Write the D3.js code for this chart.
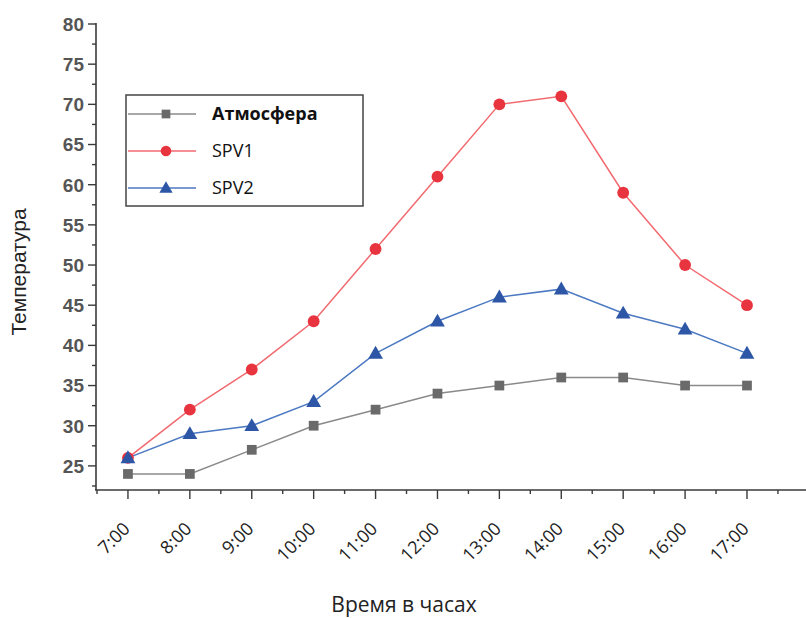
<!DOCTYPE html>
<html><head><meta charset="utf-8">
<script src="https://cdn.jsdelivr.net/npm/d3@7"></script>
<style>body{margin:0;background:#fff}</style>
</head><body>
<svg id="c" width="806" height="618"></svg>
<script>
const categories = ["7:00","8:00","9:00","10:00","11:00","12:00","13:00","14:00","15:00","16:00","17:00"];
const hours = [7,8,9,10,11,12,13,14,15,16,17];
const atmosphere = [24,24,27,30,32,34,35,36,36,35,35];
const spv1 = [26,32,37,43,52,61,70,71,59,50,45];
const spv2 = [26,29,30,33,39,43,46,47,44,42,39];
const yTicks = [25,30,35,40,45,50,55,60,65,70,75,80];
const seriesNames = ["Атмосфера","SPV1","SPV2"];

const svg = d3.select("#c");
const x = d3.scaleLinear().domain([6.5, 17.9]).range([97, 802.7]);
const y = d3.scaleLinear().domain([22, 80]).range([490, 24]);
const axisColor = "#3a3a3a";

// Y axis
const gy = svg.append("g").attr("transform","translate(96,0)");
gy.append("line").attr("y1",y(80)-1).attr("y2",y(22)).attr("stroke",axisColor).attr("stroke-width",1.6);
const minorY = d3.range(22.5, 80, 5);
gy.selectAll(".ym").data(minorY).join("line").attr("x1",-4).attr("x2",0)
  .attr("y1",d=>y(d)).attr("y2",d=>y(d)).attr("stroke",axisColor).attr("stroke-width",1.4);
gy.selectAll(".yM").data(yTicks).join("line").attr("x1",-8).attr("x2",0)
  .attr("y1",d=>y(d)).attr("y2",d=>y(d)).attr("stroke",axisColor).attr("stroke-width",1.4);
gy.selectAll(".yl").data(yTicks).join("text").attr("x",-12).attr("y",d=>y(d)).attr("dy","0.36em")
  .attr("text-anchor","end").attr("font-family","Liberation Sans, Arial, sans-serif").attr("font-size",19)
  .attr("font-weight",700).attr("fill","#555").text(d=>d);

// X axis
const gx = svg.append("g").attr("transform","translate(0,490)");
gx.append("line").attr("x1",95).attr("x2",806).attr("stroke",axisColor).attr("stroke-width",1.6);
const minorX = d3.range(6.5, 18, 1);
gx.selectAll(".xm").data(minorX).join("line").attr("x1",d=>x(d)).attr("x2",d=>x(d))
  .attr("y1",0).attr("y2",4).attr("stroke",axisColor).attr("stroke-width",1.4);
gx.selectAll(".xM").data(hours).join("line").attr("x1",d=>x(d)).attr("x2",d=>x(d))
  .attr("y1",0).attr("y2",9).attr("stroke",axisColor).attr("stroke-width",1.4);
gx.selectAll(".xl").data(categories).join("text")
  .attr("transform",(d,i)=>`translate(${x(hours[i])+3},${40}) rotate(-45)`)
  .attr("text-anchor","end").attr("font-family","Open Sans, sans-serif").attr("font-size",18)
  .attr("fill","#222").text(d=>d);

// Titles
svg.append("text").attr("transform","translate(26,272) rotate(-90)").attr("text-anchor","middle")
  .attr("font-family","Liberation Sans, Arial, sans-serif").attr("font-size",21).attr("fill","#222").text("Температура");
svg.append("text").attr("x",404).attr("y",612).attr("text-anchor","middle")
  .attr("font-family","Open Sans, sans-serif").attr("font-size",21).attr("fill","#222").text("Время в часах");

const series = [
  {name:seriesNames[0], values:atmosphere, line:"#8a8a8a", fill:"#6a6a6a", shape:"square"},
  {name:seriesNames[1], values:spv1, line:"#f26a6f", fill:"#e8343f", shape:"circle"},
  {name:seriesNames[2], values:spv2, line:"#4c79c2", fill:"#2d56a6", shape:"triangle"}
];
const symType = {square:d3.symbolSquare, circle:d3.symbolCircle, triangle:d3.symbolTriangle};
const symSize = {square:95, circle:110, triangle:95};
const line = d3.line().x((d,i)=>x(hours[i])).y(d=>y(d));

series.forEach(s=>{
  svg.append("path").datum(s.values).attr("d",line).attr("fill","none").attr("stroke",s.line).attr("stroke-width",1.5);
});
series.forEach(s=>{
  svg.selectAll(null).data(s.values).join("path")
    .attr("transform",(d,i)=>`translate(${x(hours[i])},${y(d)+(s.shape==="triangle"?1:0)})`)
    .attr("d",d3.symbol().type(symType[s.shape]).size(symSize[s.shape])).attr("fill",s.fill);
});

// Legend
const lg = svg.append("g");
lg.append("rect").attr("x",126).attr("y",95).attr("width",237).attr("height",111)
  .attr("fill","#fff").attr("stroke","#444").attr("stroke-width",1.5);
const rows = [114,151,188];
series.forEach((s,i)=>{
  lg.append("line").attr("x1",128).attr("x2",196).attr("y1",rows[i]).attr("y2",rows[i]).attr("stroke",s.line).attr("stroke-width",1.5);
  lg.append("path").attr("transform",`translate(166,${rows[i]+(s.shape==="triangle"?1:0)})`)
    .attr("d",d3.symbol().type(symType[s.shape]).size(symSize[s.shape]*0.8)).attr("fill",s.fill);
  lg.append("text").attr("x",212).attr("y",rows[i]).attr("dy","0.35em")
    .attr("font-family","Open Sans, sans-serif").attr("font-size",18).attr("fill","#111")
    .attr("font-weight", i===0?700:400).text(s.name);
});
</script>
</body></html>
